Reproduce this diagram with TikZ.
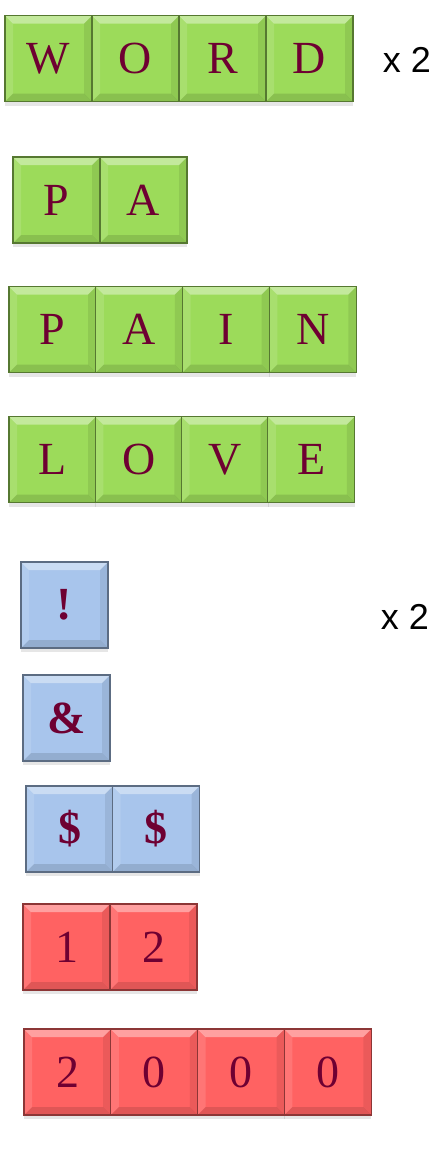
\documentclass[tikz,border=0pt]{standalone}
\usepackage{fontspec}
\setmainfont{Liberation Serif}
\newfontfamily\labelfont{Liberation Sans}
\usepackage{xcolor}
\usetikzlibrary{shadows}

\definecolor{tilegreen}{RGB}{156,219,90}
\definecolor{tileblue}{RGB}{168,197,236}
\definecolor{tilered}{RGB}{255,98,98}
\definecolor{lettercol}{RGB}{110,0,50}

\tikzset{
    tile/.style={rectangle, inner sep=0pt, minimum width=43.5pt, minimum height=43pt,
        line width=0.7pt, text=lettercol, font=\fontsize{23}{25}\selectfont,
        drop shadow={shadow xshift=0pt, shadow yshift=-2pt, opacity=0.2},
        path picture={
            % top bevel
            \fill[white, opacity=0.4] (path picture bounding box.north west) -- (path picture bounding box.north east)
                -- ([shift={(-4pt,-4pt)}]path picture bounding box.north east) -- ([shift={(4pt,-4pt)}]path picture bounding box.north west) -- cycle;
            % bottom bevel
            \fill[black, opacity=0.12] (path picture bounding box.south west) -- (path picture bounding box.south east)
                -- ([shift={(-4pt,4pt)}]path picture bounding box.south east) -- ([shift={(4pt,4pt)}]path picture bounding box.south west) -- cycle;
            % left and right bevels
            \fill[white, opacity=0.12] (path picture bounding box.north west) -- ([shift={(4pt,-4pt)}]path picture bounding box.north west)
                -- ([shift={(4pt,4pt)}]path picture bounding box.south west) -- (path picture bounding box.south west) -- cycle;
            \fill[black, opacity=0.08] (path picture bounding box.north east) -- ([shift={(-4pt,-4pt)}]path picture bounding box.north east)
                -- ([shift={(-4pt,4pt)}]path picture bounding box.south east) -- (path picture bounding box.south east) -- cycle;
        }},
    greentile/.style={tile, fill=tilegreen, draw=tilegreen!55!black},
    bluetile/.style={tile, fill=tileblue, draw=tileblue!55!black, font=\fontsize{23}{25}\selectfont\bfseries},
    redtile/.style={tile, fill=tilered, draw=tilered!55!black},
    timeslabel/.style={font=\labelfont\fontsize{18}{20}\selectfont, text=black}
}

\begin{document}
\begin{tikzpicture}[x=0.5pt, y=-0.5pt]

    \useasboundingbox (0,0) rectangle (442,1164);

    % Green word tiles
    \foreach \c [count=\i] in {W,O,R,D} {
        \node[greentile] (word\i) at ({48.5+87*(\i-1)}, 58.5) {\c};
    }
    \node[timeslabel] (times1) at (407,60) {x 2};

    \foreach \c [count=\i] in {P,A} {
        \node[greentile] (pa\i) at ({56.5+87*(\i-1)}, 200) {\c};
    }

    \foreach \c [count=\i] in {P,A,I,N} {
        \node[greentile] (pain\i) at ({52.5+86.75*(\i-1)}, 329.5) {\c};
    }

    \foreach \c [count=\i] in {L,O,V,E} {
        \node[greentile] (love\i) at ({52.5+86.25*(\i-1)}, 459.5) {\c};
    }

    % Blue symbol tiles
    \node[bluetile] (excl) at (64.5,605) {!};
    \node[timeslabel] (times2) at (405,617) {x 2};

    \node[bluetile] (amp) at (66.5,718) {\&};

    \foreach \i in {1,2} {
        \node[bluetile] (dollar\i) at ({69.5+86.5*(\i-1)}, 829) {\$};
    }

    % Red number tiles
    \foreach \c [count=\i] in {1,2} {
        \node[redtile] (num\i) at ({66.5+87*(\i-1)}, 947) {\c};
    }

    \foreach \c [count=\i] in {2,0,0,0} {
        \node[redtile] (year\i) at ({67.5+86.75*(\i-1)}, 1072) {\c};
    }

\end{tikzpicture}
\end{document}
